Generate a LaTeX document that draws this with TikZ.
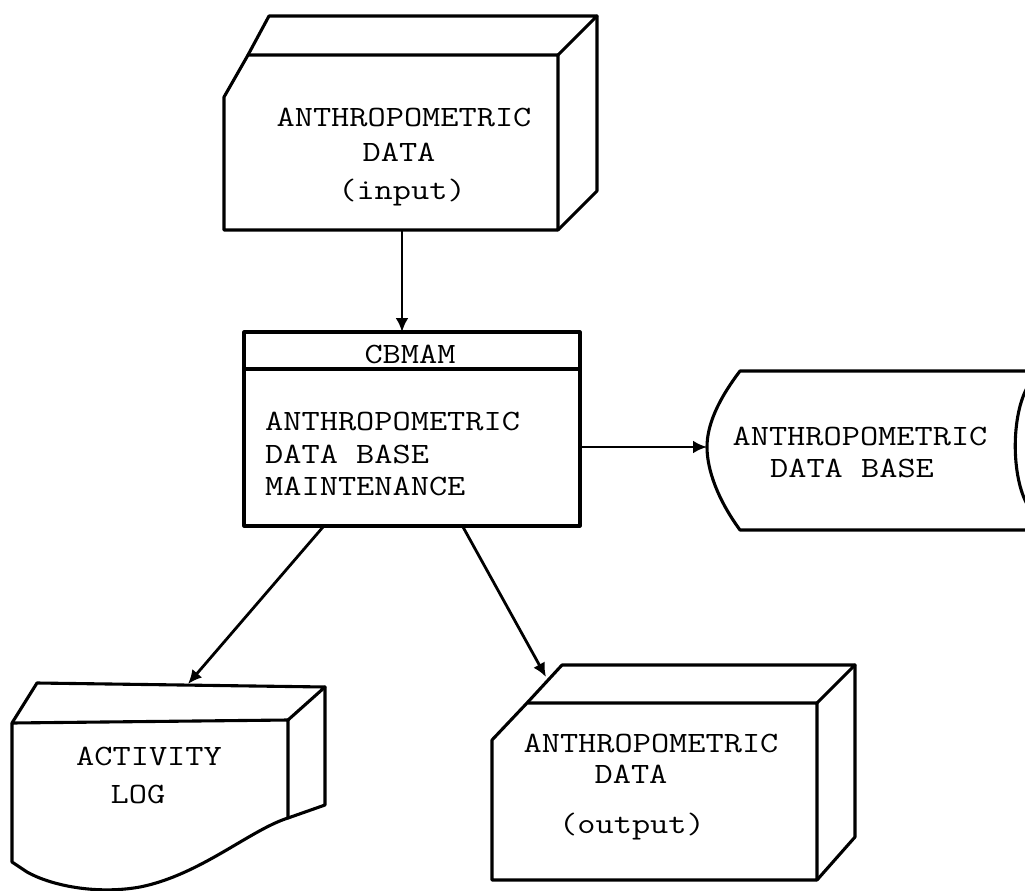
\documentclass[tikz,border=0pt]{standalone}
\usepackage{fontspec}
\usetikzlibrary{arrows.meta}
\newcommand{\cour}[1]{\scalebox{1.14}[0.95]{#1}}
\begin{document}
\begin{tikzpicture}[x=1pt,y=-1pt,
  shapeline/.style={line width=3.1pt,line join=round,line cap=round},
  arr/.style={line width=2.8pt,-{Latex[length=14pt,width=13pt]}},
  lbl/.style={font=\ttfamily\fontsize{31}{33}\selectfont,inner sep=0pt,anchor=base}]
\useasboundingbox[fill=white] (0,0) rectangle (1025,891);

% ---------- input box ----------
\draw[shapeline] (248,55) -- (558,55) -- (558,230) -- (224,230) -- (224,97) -- cycle;
\draw[shapeline] (248,55) -- (269,16) -- (597,16) -- (558,55);
\draw[shapeline] (597,16) -- (597,191) -- (558,230);
\node[lbl] (in1) at (404,126) {\cour{ANTHROPOMETRIC}};
\node[lbl] (in2) at (399,161) {\cour{DATA}};
\node[lbl] (in3) at (402,199) {\cour{(input)}};
\coordinate (inS) at (402,230);

% ---------- process box ----------
\draw[shapeline] (244,332) rectangle (580,526);
\draw[shapeline] (244,369) -- (580,369);
\node[lbl] (pt) at (410,363) {\cour{CBMAM}};
\node[lbl,anchor=base west] (p1) at (265,430) {\cour{ANTHROPOMETRIC}};
\node[lbl,anchor=base west] (p2) at (265,463) {\cour{DATA BASE}};
\node[lbl,anchor=base west] (p3) at (265,495) {\cour{MAINTENANCE}};
\coordinate (pN) at (402,332);
\coordinate (pE) at (580,447);
\coordinate (pSW) at (323,527);
\coordinate (pSE) at (463,527);

% ---------- data base (stored data) ----------
\draw[shapeline] (1030,371) -- (740,371)
  .. controls (718,400) and (707,425) .. (707,447)
  .. controls (707,470) and (718,500) .. (740,530) -- (1030,530);
\draw[shapeline] (1028,386) .. controls (1011,415) and (1011,477) .. (1028,506);
\node[lbl] (db1) at (860,445) {\cour{ANTHROPOMETRIC}};
\node[lbl] (db2) at (852,477) {\cour{DATA BASE}};
\coordinate (dbW) at (707,447);

% ---------- activity log ----------
\draw[shapeline] (12,723) -- (288,720) -- (288,818)
  .. controls (250,830) and (200,875) .. (140,887)
  .. controls (95,895) and (50,885) .. (27,872) -- (12,862) -- cycle;
\draw[shapeline] (12,723) -- (37,683) -- (325,687) -- (288,720);
\draw[shapeline] (325,687) -- (325,805) -- (288,818);
\node[lbl] (al1) at (149,765) {\cour{ACTIVITY}};
\node[lbl] (al2) at (138,803) {\cour{LOG}};
\coordinate (alN) at (188,684);

% ---------- output box ----------
\draw[shapeline] (527,703) -- (817,703) -- (817,880) -- (492,880) -- (492,740) -- cycle;
\draw[shapeline] (527,703) -- (562,665) -- (855,665) -- (817,703);
\draw[shapeline] (855,665) -- (855,837) -- (817,880);
\node[lbl] (out1) at (651,752) {\cour{ANTHROPOMETRIC}};
\node[lbl] (out2) at (631,783) {\cour{DATA}};
\node[lbl] (out3) at (632,833) {\cour{(output)}};
\coordinate (outNW) at (546,677);

% ---------- connectors ----------
\draw[arr] (inS) -- (pN);
\draw[arr] (pE) -- (dbW);
\draw[arr] (pSW) -- (alN);
\draw[arr] (pSE) -- (outNW);
\end{tikzpicture}
\end{document}
